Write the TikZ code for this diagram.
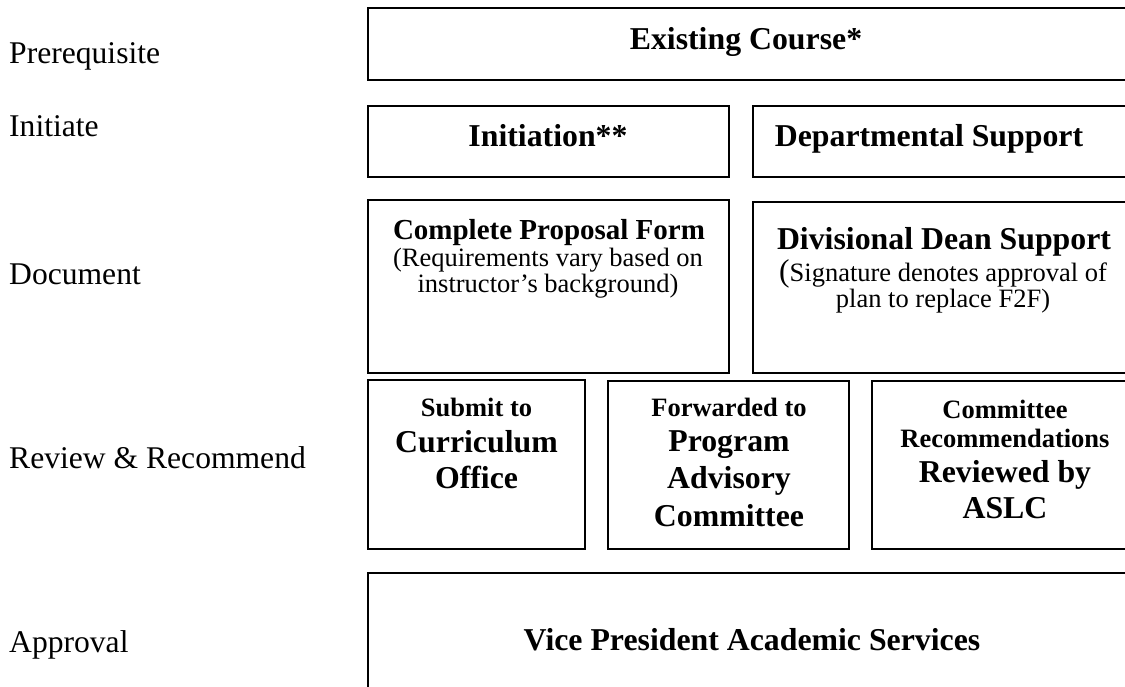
\documentclass[tikz,border=0pt]{standalone}
\usepackage{fontspec}
\setmainfont{Liberation Serif}
\begin{document}
\begin{tikzpicture}[x=1pt,y=-1pt,
  box/.style={draw, line width=1.7pt, rectangle, inner sep=0pt, outer sep=0pt, anchor=north west},
  lbl/.style={anchor=base west, inner sep=0pt, font=\fontsize{31.6}{36}\selectfont},
  bigb/.style={anchor=base, inner sep=0pt, font=\fontsize{31.8}{36}\selectfont\bfseries},
  midb/.style={anchor=base, inner sep=0pt, font=\fontsize{29}{33}\selectfont\bfseries},
  smb/.style={anchor=base, inner sep=0pt, font=\fontsize{26.5}{30}\selectfont\bfseries},
  sm/.style={anchor=base, inner sep=0pt, font=\fontsize{26.5}{30}\selectfont}]
\useasboundingbox (0,0) rectangle (1125,687);
\clip (0,0) rectangle (1125,687);
% left labels
\node[lbl] (lpre) at (9,64) {Prerequisite};
\node[lbl] (lini) at (9,137) {Initiate};
\node[lbl] (ldoc) at (9,284) {Document};
\node[lbl] (lrev) at (9,468) {Review \& Recommend};
\node[lbl] (lapp) at (9,652) {Approval};
% boxes
\node[box, minimum width=770pt, minimum height=72pt] (bexist) at (368,8) {};
\node[box, minimum width=361pt, minimum height=71pt] (binit) at (368,106) {};
\node[box, minimum width=385pt, minimum height=71pt] (bdept) at (753,106) {};
\node[box, minimum width=361pt, minimum height=173pt] (bprop) at (368,200) {};
\node[box, minimum width=385pt, minimum height=171pt] (bdean) at (753,202) {};
\node[box, minimum width=217pt, minimum height=169pt] (bsub) at (368,380) {};
\node[box, minimum width=241pt, minimum height=168pt] (bfwd) at (608,381) {};
\node[box, minimum width=266pt, minimum height=168pt] (bcom) at (872,381) {};
\node[box, minimum width=770pt, minimum height=140pt] (bvp) at (368,573) {};
% texts
\node[bigb] (texist) at (746,50) {Existing Course*};
\node[bigb] (tinit) at (548,147) {Initiation**};
\node[bigb] (tdept) at (929,147) {Departmental Support};
\node[midb] (tprop1) at (549,240) {Complete Proposal Form};
\node[sm] (tprop2) at (548,267) {(Requirements vary based on};
\node[sm] (tprop3) at (548,293) {instructor’s background)};
\node[bigb] (tdean1) at (944,250) {Divisional Dean Support};
\node[sm] (tdean2) at (943,282) {{\fontsize{31.6}{36}\selectfont(}Signature denotes approval of};
\node[sm] (tdean3) at (943,308) {plan to replace F2F)};
\node[smb] (tsub1) at (476.5,416) {Submit to};
\node[bigb] (tsub2) at (476.5,452) {Curriculum};
\node[bigb] (tsub3) at (476.5,488) {Office};
\node[smb] (tfwd1) at (729,416) {Forwarded to};
\node[bigb] (tfwd2) at (729,451) {Program};
\node[bigb] (tfwd3) at (729,488) {Advisory};
\node[bigb] (tfwd4) at (729,526) {Committee};
\node[smb] (tcom1) at (1005,418) {Committee};
\node[smb] (tcom2) at (1005,447) {Recommendations};
\node[bigb] (tcom3) at (1005,482) {Reviewed by};
\node[bigb] (tcom4) at (1005,518) {ASLC};
\node[bigb] (tvp) at (752,650) {Vice President Academic Services};
\end{tikzpicture}
\end{document}
